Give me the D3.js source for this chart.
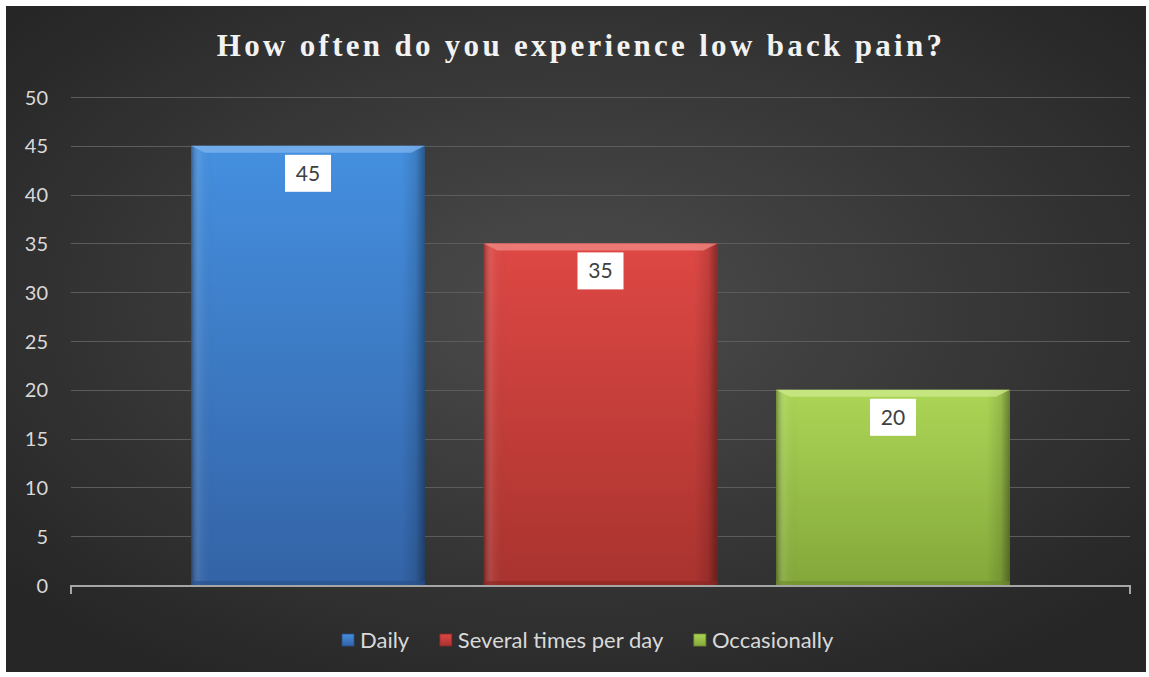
<!DOCTYPE html>
<html>
<head>
<meta charset="utf-8">
<script src="https://cdn.jsdelivr.net/npm/d3@7/dist/d3.min.js"></script>
<style>
  html, body { margin: 0; padding: 0; background: #ffffff; }
  svg { display: block; }
</style>
</head>
<body>
<svg id="chart" width="1149" height="677"></svg>
<script>
// Survey answers: one category, three series
const category = ["How often"];
const seriesNames = ["Daily", "Several times per day", "Occasionally"];
const seriesValues = [45, 35, 20];
const yTicks = [0, 5, 10, 15, 20, 25, 30, 35, 40, 45, 50];
const chartTitle = "How often do you experience low back pain?";

// Per-series palette: top, bottom, edge
const palette = [
  { top: "#4590e0", bottom: "#3363a6", edge: "#27508a", bevel: "#7fb4ef" },
  { top: "#de4844", bottom: "#a9332f", edge: "#8a2622", bevel: "#f08a86" },
  { top: "#acd656", bottom: "#84a73a", edge: "#6c8a2c", bevel: "#cdea8e" }
];

const W = 1149, H = 677;
const svg = d3.select("#chart");
const defs = svg.append("defs");

// Frame background with soft radial light
const bg = defs.append("radialGradient").attr("id", "bgGrad")
  .attr("cx", "50%").attr("cy", "45%").attr("r", "65%");
bg.append("stop").attr("offset", "0%").attr("stop-color", "#4c4c4c");
bg.append("stop").attr("offset", "100%").attr("stop-color", "#262626");

svg.append("rect").attr("x", 6).attr("y", 6).attr("width", 1140).attr("height", 666)
  .attr("fill", "url(#bgGrad)");

const margin = { left: 71, right: 19, top: 97, bottom: 92 };
const plotW = W - margin.left - margin.right;
const plotH = H - margin.top - margin.bottom;

const y = d3.scaleLinear().domain([0, 50]).range([margin.top + plotH, margin.top]);
const x0 = d3.scaleBand().domain(category).range([margin.left, margin.left + plotW])
  .paddingInner(0).paddingOuter(0.1465);
const x1 = d3.scaleBand().domain(seriesNames).range([0, x0.bandwidth()])
  .paddingInner(0.2).paddingOuter(0);

// Gridlines
svg.append("g")
  .selectAll("line").data(yTicks.filter(d => d > 0)).join("line")
  .attr("x1", margin.left).attr("x2", margin.left + plotW)
  .attr("y1", d => Math.round(y(d)) + 0.5).attr("y2", d => Math.round(y(d)) + 0.5)
  .attr("stroke", "#5c5c5c").attr("stroke-width", 1);

// Y-axis labels
const yAxis = d3.axisLeft(y).tickValues(yTicks).tickSize(0).tickPadding(0);
const yg = svg.append("g").attr("transform", `translate(${margin.left - 23},0)`).call(yAxis);
yg.select(".domain").remove();
yg.selectAll("text")
  .attr("fill", "#d9d9d9").attr("font-family", "Lato, 'Liberation Sans', sans-serif")
  .attr("font-size", 20).attr("dy", "0.35em");

// Gradients per series
palette.forEach((c, i) => {
  const g = defs.append("linearGradient").attr("id", "barV" + i)
    .attr("x1", 0).attr("y1", 0).attr("x2", 0).attr("y2", 1);
  g.append("stop").attr("offset", "0%").attr("stop-color", c.top);
  g.append("stop").attr("offset", "100%").attr("stop-color", c.bottom);
});
const side = defs.append("linearGradient").attr("id", "sideShade")
  .attr("x1", 0).attr("y1", 0).attr("x2", 1).attr("y2", 0);
side.append("stop").attr("offset", "0%").attr("stop-color", "#000").attr("stop-opacity", 0.35);
side.append("stop").attr("offset", "4%").attr("stop-color", "#fff").attr("stop-opacity", 0.06);
side.append("stop").attr("offset", "10%").attr("stop-color", "#000").attr("stop-opacity", 0.0);
side.append("stop").attr("offset", "90%").attr("stop-color", "#000").attr("stop-opacity", 0.0);
side.append("stop").attr("offset", "96%").attr("stop-color", "#000").attr("stop-opacity", 0.12);
side.append("stop").attr("offset", "100%").attr("stop-color", "#000").attr("stop-opacity", 0.4);

const bars = seriesNames.map((name, i) => ({ name, value: seriesValues[i], i }));
const bandX = x0(category[0]);

const barG = svg.append("g").selectAll("g").data(bars).join("g");
barG.append("rect")
  .attr("x", d => bandX + x1(d.name)).attr("y", d => y(d.value))
  .attr("width", x1.bandwidth()).attr("height", d => y(0) - y(d.value))
  .attr("fill", d => `url(#barV${d.i})`);
barG.append("rect")
  .attr("x", d => bandX + x1(d.name)).attr("y", d => y(d.value))
  .attr("width", x1.bandwidth()).attr("height", d => y(0) - y(d.value))
  .attr("fill", "url(#sideShade)");
// Top bevel
const bev = 7;
barG.append("polygon")
  .attr("points", d => {
    const xl = bandX + x1(d.name), xr = xl + x1.bandwidth(), yt = y(d.value);
    return [[xl, yt], [xr, yt], [xr - bev * 2, yt + bev], [xl + bev * 2, yt + bev]].map(p => p.join(",")).join(" ");
  })
  .attr("fill", d => palette[d.i].bevel).attr("opacity", 0.75);
// Bottom shadow line
barG.append("rect")
  .attr("x", d => bandX + x1(d.name)).attr("y", y(0) - 4)
  .attr("width", x1.bandwidth()).attr("height", 4)
  .attr("fill", d => palette[d.i].edge).attr("opacity", 0.6);

// Data labels
const lblW = 46, lblH = 37;
const lab = barG.append("g")
  .attr("transform", d => `translate(${bandX + x1(d.name) + x1.bandwidth() / 2},${y(d.value) + 9})`);
lab.append("rect").attr("x", -lblW / 2).attr("y", 0).attr("width", lblW).attr("height", lblH)
  .attr("fill", "#ffffff");
lab.append("text").attr("x", 0).attr("y", lblH / 2).attr("dy", "0.36em")
  .attr("text-anchor", "middle").attr("fill", "#404040")
  .attr("font-family", "Lato, 'Liberation Sans', sans-serif").attr("font-size", 21)
  .text(d => d.value);

// Category axis line with end ticks
const axisY = y(0) + 1;
svg.append("path")
  .attr("d", `M${margin.left},${axisY + 8} V${axisY} H${margin.left + plotW} V${axisY + 8}`)
  .attr("fill", "none").attr("stroke", "#a6a6a6").attr("stroke-width", 2);

// Title
svg.append("text")
  .attr("x", 581).attr("y", 56).attr("text-anchor", "middle")
  .attr("fill", "#f2f2f2").attr("font-family", "'Liberation Serif', 'Times New Roman', serif")
  .attr("font-weight", "bold").attr("font-size", 31).attr("letter-spacing", 3.3)
  .text(chartTitle);

// Legend
const legend = svg.append("g").attr("font-family", "Lato, 'Liberation Sans', sans-serif")
  .attr("font-size", 22).attr("fill", "#d9d9d9");
const items = legend.selectAll("g").data(bars).join("g");
items.append("rect").attr("width", 12).attr("height", 12).attr("y", -6)
  .attr("fill", d => `url(#barV${d.i})`).attr("stroke", d => palette[d.i].edge).attr("stroke-width", 0.8);
items.append("text").attr("x", 18).attr("dy", "0.35em").text(d => d.name);
// lay items out centred
let widths = [];
items.each(function () { widths.push(this.getBBox().width); });
const gapL = 30;
const total = d3.sum(widths) + gapL * (widths.length - 1);
let cx = 588 - total / 2;
items.attr("transform", (d, i) => { const t = `translate(${cx},640)`; cx += widths[i] + gapL; return t; });
</script>
</body>
</html>
